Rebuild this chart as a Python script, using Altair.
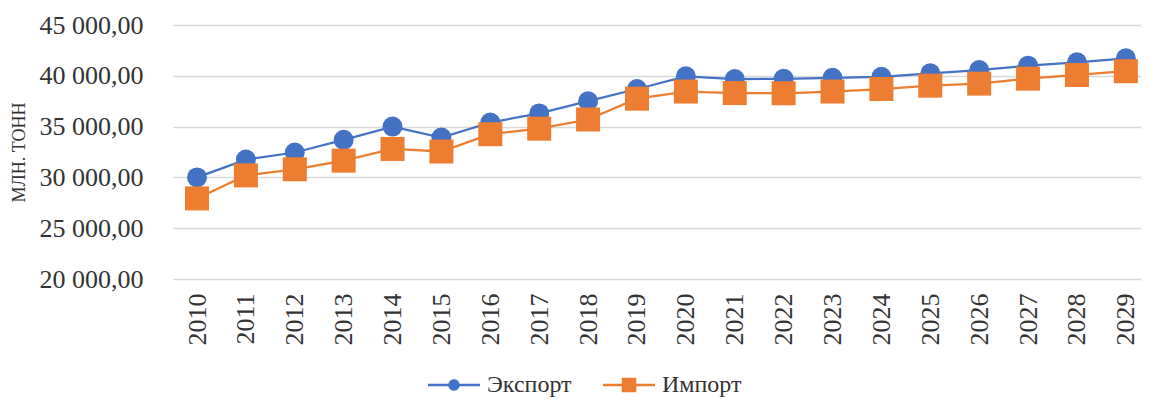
import altair as alt
import pandas as pd

years = [2010, 2011, 2012, 2013, 2014, 2015, 2016, 2017, 2018, 2019,
         2020, 2021, 2022, 2023, 2024, 2025, 2026, 2027, 2028, 2029]
export_vals = [30000, 31750, 32450, 33700, 35000, 33920, 35400, 36300, 37500, 38700,
               39950, 39680, 39700, 39800, 39900, 40250, 40570, 41000, 41330, 41720]
import_vals = [27930, 30200, 30800, 31650, 32800, 32550, 34250, 34800, 35700, 37750,
               38450, 38300, 38280, 38450, 38700, 39030, 39230, 39720, 40080, 40450]
series_names = ["Экспорт", "Импорт"]
colors = ["#4472C4", "#ED7D31"]
y_ticks = [20000, 25000, 30000, 35000, 40000, 45000]

rows = []
for name, vals in zip(series_names, [export_vals, import_vals]):
    for yr, v in zip(years, vals):
        rows.append({"year": yr, "value": v, "series": name})
df = pd.DataFrame(rows)

FONT = "Liberation Serif"
TXT = "#333333"

x_enc = alt.X("year:Q",
              scale=alt.Scale(domain=[2009.509, 2029.31], nice=False, zero=False),
              axis=alt.Axis(values=years, format="d", labelAngle=270, grid=False,
                            ticks=False, domain=False, labelPadding=14,
                            labelFontSize=26, labelFont=FONT, labelColor=TXT,
                            labelBaseline="middle", labelAlign="right"),
              title=None)
y_enc = alt.Y("value:Q",
              scale=alt.Scale(domain=[20000, 45000], nice=False, zero=False),
              axis=alt.Axis(values=y_ticks, grid=True, gridColor="#d9d9d9", gridWidth=1.6,
                            ticks=False, domain=False, labelPadding=30,
                            labelFontSize=26, labelFont=FONT, labelColor=TXT,
                            labelExpr="replace(replace(format(datum.value, ',.2f'), ',', ' '), '.', ',')",
                            title="МЛН. ТОНН", titleFont=FONT, titleFontSize=18,
                            titleFontWeight="normal", titleColor=TXT, titleAngle=270,
                            titleX=-154, titleY=127, titleAlign="center",
                            titleBaseline="middle"))

color_scale = alt.Scale(domain=series_names, range=colors)
circle_path = ("M-1,-0.046 H1 V0.046 H-1 Z "
               "M-0.22,0 A0.22,0.22 0 1 1 0.22,0 A0.22,0.22 0 1 1 -0.22,0 Z")
square_path = ("M-1,-0.046 H1 V0.046 H-1 Z "
               "M-0.28,-0.28 H0.28 V0.28 H-0.28 Z")
shape_scale = alt.Scale(domain=series_names, range=[circle_path, square_path])

lines = alt.Chart(df).mark_line(strokeWidth=2.25).encode(
    x=x_enc, y=y_enc, color=alt.Color("series:N", scale=color_scale, legend=None),
    detail="series:N")

pts_exp = alt.Chart(df).transform_filter(
    alt.datum.series == series_names[0]
).mark_point(filled=True, opacity=1, shape="circle", size=400, strokeWidth=0).encode(
    x=x_enc, y=y_enc, color=alt.Color("series:N", scale=color_scale, legend=None))

pts_imp = alt.Chart(df).transform_filter(
    alt.datum.series == series_names[1]
).mark_point(filled=True, opacity=1, shape="square", size=576, strokeWidth=0).encode(
    x=x_enc, y=y_enc, color=alt.Color("series:N", scale=color_scale, legend=None))

leg = alt.Legend(title=None, orient="none", legendX=255, legendY=334,
                 direction="horizontal")

# legend-only helper layer: nothing is drawn from it, it only carries the legend
legend_layer = alt.Chart(df).transform_filter("false").mark_point(
    filled=True, opacity=1).encode(
    x=x_enc, y=y_enc,
    color=alt.Color("series:N", scale=color_scale, legend=leg),
    shape=alt.Shape("series:N", scale=shape_scale, legend=leg))

chart = alt.layer(lines, pts_exp, pts_imp, legend_layer).resolve_legend(
    color="independent", shape="independent"
).properties(
    width=968, height=254,
    background="white",
    autosize=alt.AutoSizeParams(type="none"),
    padding={"left": 165, "top": 17, "right": 0, "bottom": 120},
).configure_view(stroke=None).configure_legend(
    symbolSize=2704, symbolStrokeWidth=0, labelOffset=7, columnPadding=31,
    labelFont=FONT, labelFontSize=24, labelColor=TXT, padding=0,
    symbolOpacity=1
)

chart.save("out.html", embed_options={"renderer": "svg", "actions": False})
